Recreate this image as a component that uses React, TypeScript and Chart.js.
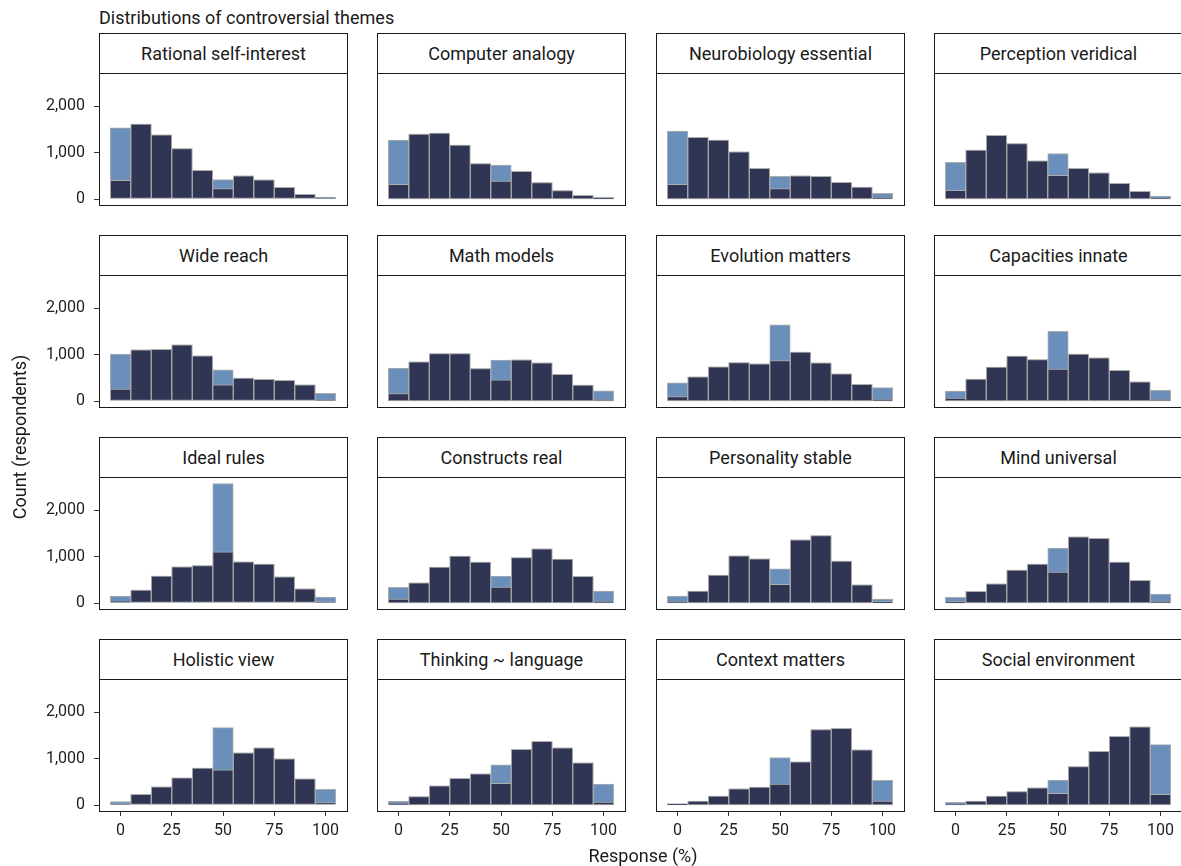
import React, { useEffect, useRef } from "react";
import { Chart, registerables } from "chart.js";

Chart.register(...registerables);

// ---- Data -------------------------------------------------------------
const binCentres = [0, 10, 20, 30, 40, 50, 60, 70, 80, 90, 100];
const xTickValues = [0, 25, 50, 75, 100];
const yTickValues = [0, 1000, 2000];

const themeNames = [
  "Rational self-interest",
  "Computer analogy",
  "Neurobiology essential",
  "Perception veridical",
  "Wide reach",
  "Math models",
  "Evolution matters",
  "Capacities innate",
  "Ideal rules",
  "Constructs real",
  "Personality stable",
  "Mind universal",
  "Holistic view",
  "Thinking ~ language",
  "Context matters",
  "Social environment",
];

// All responses (light blue)
const rationalAll = [1532, 1612, 1381, 1086, 619, 417, 496, 410, 252, 101, 40];
const computerAll = [1266, 1396, 1417, 1158, 763, 727, 597, 353, 180, 79, 40];
const neuroAll = [1460, 1324, 1266, 1014, 662, 489, 496, 489, 360, 259, 122];
const perceptionAll = [791, 1050, 1367, 1194, 820, 978, 662, 561, 338, 165, 65];
const wideAll = [1007, 1100, 1114, 1207, 971, 671, 493, 464, 443, 350, 164];
const mathAll = [707, 843, 1021, 1021, 700, 879, 886, 821, 571, 343, 221];
const evolutionAll = [393, 521, 736, 829, 800, 1636, 1050, 821, 586, 357, 286];
const capacitiesAll = [214, 471, 729, 964, 893, 1500, 1007, 929, 657, 414, 229];
const idealAll = [150, 279, 579, 779, 807, 2571, 886, 836, 564, 307, 129];
const constructsAll = [336, 436, 771, 1007, 879, 579, 979, 1164, 943, 571, 257];
const personalityAll = [150, 257, 600, 1014, 950, 736, 1357, 1450, 900, 393, 86];
const mindAll = [121, 250, 414, 707, 836, 1179, 1421, 1393, 879, 486, 193];
const holisticAll = [71, 229, 393, 586, 793, 1664, 1121, 1229, 993, 564, 336];
const thinkingAll = [79, 179, 414, 571, 671, 864, 1200, 1371, 1229, 907, 450];
const contextAll = [30, 86, 193, 350, 386, 1021, 929, 1621, 1650, 1186, 529];
const socialAll = [57, 86, 193, 286, 371, 536, 829, 1157, 1479, 1679, 1300];

// Responses excluding the exact anchor values (dark navy)
const rationalCore = [403, 1612, 1381, 1086, 619, 223, 496, 410, 252, 101, 25];
const computerCore = [317, 1396, 1417, 1158, 763, 388, 597, 353, 180, 79, 15];
const neuroCore = [317, 1324, 1266, 1014, 662, 223, 496, 489, 360, 259, 36];
const perceptionCore = [187, 1050, 1367, 1194, 820, 511, 662, 561, 338, 165, 22];
const wideCore = [257, 1100, 1114, 1207, 971, 350, 493, 464, 443, 350, 25];
const mathCore = [157, 843, 1021, 1021, 700, 457, 886, 821, 571, 343, 43];
const evolutionCore = [93, 521, 736, 829, 800, 871, 1050, 821, 586, 357, 36];
const capacitiesCore = [64, 471, 729, 964, 893, 686, 1007, 929, 657, 414, 43];
const idealCore = [36, 279, 579, 779, 807, 1100, 886, 836, 564, 307, 20];
const constructsCore = [86, 436, 771, 1007, 879, 343, 979, 1164, 943, 571, 36];
const personalityCore = [36, 257, 600, 1014, 950, 400, 1357, 1450, 900, 393, 29];
const mindCore = [29, 250, 414, 707, 836, 664, 1421, 1393, 879, 486, 36];
const holisticCore = [20, 229, 393, 586, 793, 757, 1121, 1229, 993, 564, 50];
const thinkingCore = [36, 179, 414, 571, 671, 464, 1200, 1371, 1229, 907, 64];
const contextCore = [15, 86, 193, 350, 386, 450, 929, 1621, 1650, 1186, 86];
const socialCore = [20, 86, 193, 286, 371, 250, 829, 1157, 1479, 1679, 229];

const allSeries = [
  rationalAll, computerAll, neuroAll, perceptionAll,
  wideAll, mathAll, evolutionAll, capacitiesAll,
  idealAll, constructsAll, personalityAll, mindAll,
  holisticAll, thinkingAll, contextAll, socialAll,
];
const coreSeries = [
  rationalCore, computerCore, neuroCore, perceptionCore,
  wideCore, mathCore, evolutionCore, capacitiesCore,
  idealCore, constructsCore, personalityCore, mindCore,
  holisticCore, thinkingCore, contextCore, socialCore,
];

// ---- Style / layout ---------------------------------------------------
const FONT = "Roboto, 'Noto Sans', sans-serif";
const DARK = "#313554";
const LIGHT = "#6a8fba";
const EDGE = "#acacac";
const INK = "#1a1a1a";

const colLefts = [99, 377, 656, 934];
const stripTops = [33, 235, 437, 639];
const PANEL_W = 248;
const PANEL_H = 132;
const STRIP_H = 41;
const PAD_L = 90;
const PAD_T = 30;
const PAD_R = 12;
const PAD_B = 50;

const panelBorder = {
  id: "panelBorder",
  afterDraw(chart: any) {
    const { ctx, chartArea } = chart;
    ctx.save();
    ctx.strokeStyle = INK;
    ctx.lineWidth = 1;
    ctx.strokeRect(
      chartArea.left + 0.5,
      chartArea.top + 0.5,
      chartArea.right - chartArea.left,
      chartArea.bottom - chartArea.top
    );
    ctx.restore();
  },
};

function Panel({ idx }: { idx: number }) {
  const ref = useRef<HTMLCanvasElement>(null);
  const row = Math.floor(idx / 4);
  const col = idx % 4;
  const showY = col === 0;
  const showX = row === 3;

  useEffect(() => {
    if (!ref.current) return;
    const chart = new Chart(ref.current, {
      type: "bar",
      data: {
        datasets: [
          {
            label: "Excluding anchor values",
            data: binCentres.map((b, i) => ({ x: b, y: coreSeries[idx][i] })),
            backgroundColor: DARK,
            borderColor: EDGE,
            borderWidth: 1,
            borderSkipped: false,
            grouped: false,
            order: 0,
            barPercentage: 1,
            categoryPercentage: 1,
          } as any,
          {
            label: "All responses",
            data: binCentres.map((b, i) => ({ x: b, y: allSeries[idx][i] })),
            backgroundColor: LIGHT,
            borderColor: EDGE,
            borderWidth: 1,
            borderSkipped: false,
            grouped: false,
            order: 1,
            barPercentage: 1,
            categoryPercentage: 1,
          } as any,
        ],
      },
      options: {
        responsive: false,
        animation: false,
        layout: { padding: { top: PAD_T, right: PAD_R, left: 0, bottom: 0 } },
        plugins: {
          legend: { display: false },
          tooltip: { enabled: false },
          title: { display: false },
        },
        scales: {
          x: {
            type: "linear",
            offset: false,
            min: -10.5,
            max: 110.5,
            afterBuildTicks: (s: any) => {
              s.ticks = xTickValues.map((v) => ({ value: v }));
            },
            afterFit: (s: any) => {
              s.height = PAD_B;
            },
            border: { display: false },
            grid: {
              display: showX,
              offset: false,
              drawOnChartArea: false,
              drawTicks: true,
              tickLength: 5,
              tickColor: "#333",
            },
            ticks: {
              display: showX,
              autoSkip: false,
              maxRotation: 0,
              padding: 5,
              color: "#222",
              font: { family: FONT, size: 16 },
              callback: (v: any) => String(v),
            },
          },
          y: {
            type: "linear",
            min: -129,
            max: 2710,
            afterBuildTicks: (s: any) => {
              s.ticks = yTickValues.map((v) => ({ value: v }));
            },
            afterFit: (s: any) => {
              s.width = PAD_L;
            },
            border: { display: false },
            grid: {
              display: showY,
              drawOnChartArea: false,
              drawTicks: true,
              tickLength: 5,
              tickColor: "#333",
            },
            ticks: {
              display: showY,
              padding: 9,
              color: "#222",
              font: { family: FONT, size: 16 },
              callback: (v: any) => Number(v).toLocaleString("en-US"),
            },
          },
        },
      } as any,
      plugins: [panelBorder],
    });
    return () => chart.destroy();
  }, [idx]);

  const left = colLefts[col];
  const top = stripTops[row];
  const canvasW = PAD_L + PANEL_W + PAD_R;
  const canvasH = PAD_T + PANEL_H + PAD_B;

  return (
    <>
      <div
        style={{
          position: "absolute",
          left: left - PAD_L,
          top: top + STRIP_H - 1 - PAD_T,
          width: canvasW,
          height: canvasH,
        }}
      >
        <canvas ref={ref} width={canvasW} height={canvasH} style={{ width: canvasW, height: canvasH, display: "block" }} />
      </div>
      <div
        style={{
          position: "absolute",
          left,
          top,
          width: PANEL_W + 1,
          height: STRIP_H,
          boxSizing: "border-box",
          border: `1px solid ${INK}`,
          background: "#fff",
          display: "flex",
          alignItems: "center",
          justifyContent: "center",
          fontFamily: FONT,
          fontSize: 18,
          color: INK,
          whiteSpace: "nowrap",
        }}
      >
        {themeNames[idx]}
      </div>
    </>
  );
}

export default function App() {
  return (
    <div
      style={{
        position: "absolute",
        left: 0,
        top: 0,
        width: 1181,
        height: 866,
        overflow: "hidden",
        background: "#fff",
        fontFamily: FONT,
        color: INK,
      }}
    >
      <div style={{ position: "absolute", left: 99, top: 7, fontSize: 18, lineHeight: "22px", whiteSpace: "nowrap" }}>
        Distributions of controversial themes
      </div>
      {themeNames.map((_, i) => (
        <Panel key={i} idx={i} />
      ))}
      <div
        style={{
          position: "absolute",
          left: 20 - 150,
          top: 437 - 11,
          width: 300,
          height: 22,
          lineHeight: "22px",
          textAlign: "center",
          fontSize: 18,
          transform: "rotate(-90deg)",
          whiteSpace: "nowrap",
        }}
      >
        Count (respondents)
      </div>
      <div
        style={{
          position: "absolute",
          left: 643 - 150,
          top: 845,
          width: 300,
          height: 22,
          lineHeight: "22px",
          textAlign: "center",
          fontSize: 18,
          whiteSpace: "nowrap",
        }}
      >
        Response (%)
      </div>
    </div>
  );
}
